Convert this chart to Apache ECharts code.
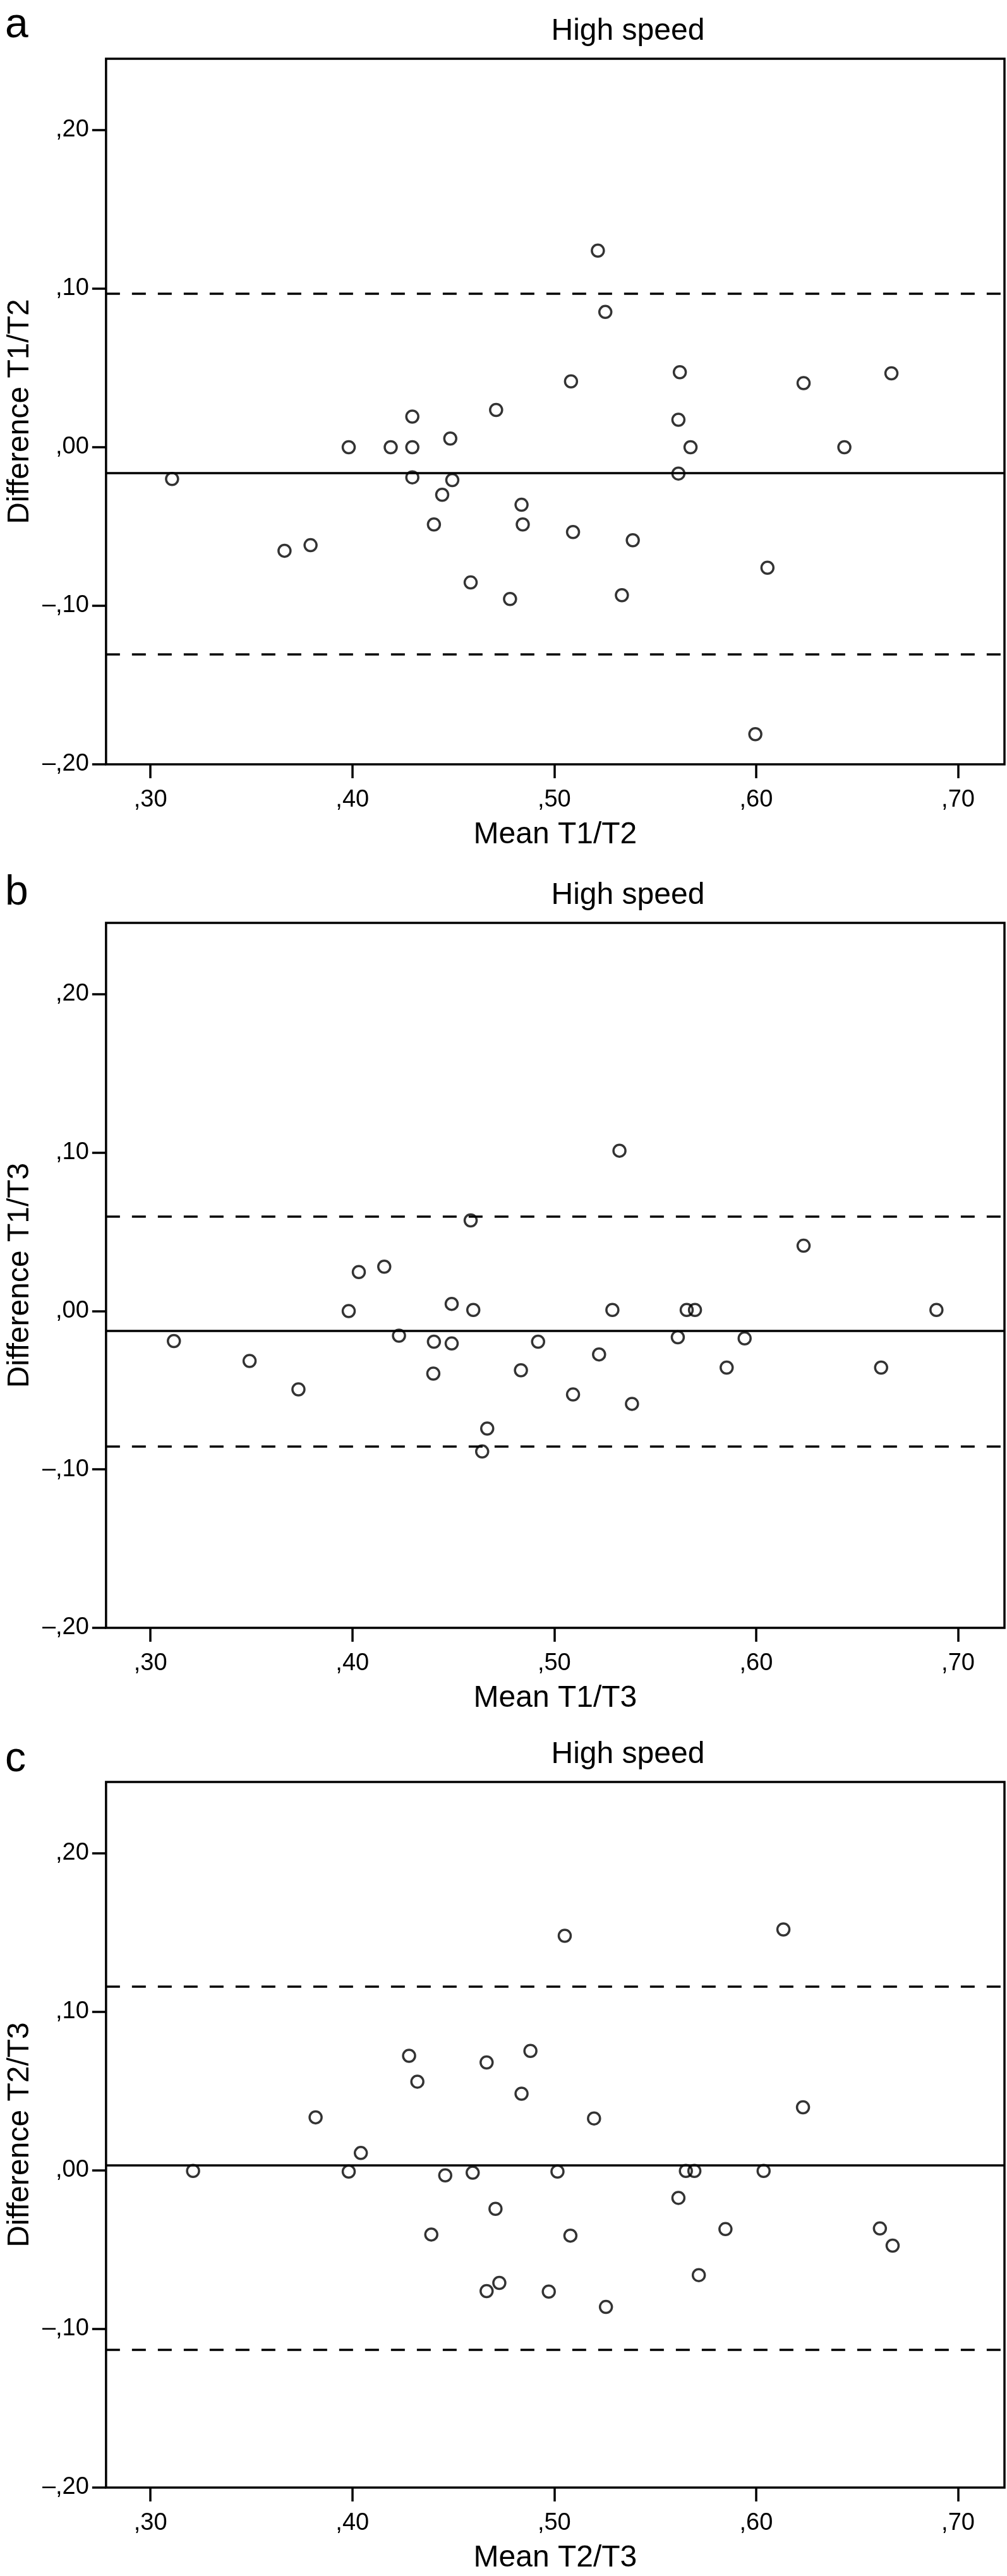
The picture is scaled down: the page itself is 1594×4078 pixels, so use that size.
<!DOCTYPE html>
<html>
<head>
<meta charset="utf-8">
<script src="https://cdn.jsdelivr.net/npm/echarts@6/dist/echarts.min.js"></script>
<style>
html,body{margin:0;padding:0;background:#fff;}
#chart{width:1594px;height:4078px;}
</style>
</head>
<body>
<div id="chart"></div>
<script>
// ---- data ----
const panelLetters = ['a', 'b', 'c'];
const panelTitle = 'High speed';
const xNames = ['Mean T1/T2', 'Mean T1/T3', 'Mean T2/T3'];
const yNames = ['Difference T1/T2', 'Difference T1/T3', 'Difference T2/T3'];

const xTickValues = [0.30, 0.40, 0.50, 0.60, 0.70];
const xTickLabels = [',30', ',40', ',50', ',60', ',70'];
const yTickValues = [-0.20, -0.10, 0.00, 0.10, 0.20];
const yTickLabels = ['\u2013,20', '\u2013,10', ',00', ',10', ',20'];

// panel a : T1/T2
const aMean = [0.3107, 0.3664, 0.3793, 0.3982, 0.4190, 0.4297, 0.4297, 0.4297, 0.4485, 0.4495, 0.4445, 0.4404,
  0.4586, 0.4712, 0.4781, 0.4838, 0.4844, 0.5083, 0.5093, 0.5216, 0.5253, 0.5335, 0.5389, 0.5622, 0.5615,
  0.5615, 0.5675, 0.5996, 0.6056, 0.6235, 0.6437, 0.6670];
const aDiff = [-0.020, -0.0653, -0.0618, 0.000, 0.000, 0.0193, 0.000, -0.019, 0.0055, -0.0207, -0.030, -0.0487,
  -0.0853, 0.0235, -0.0957, -0.0363, -0.0487, 0.0415, -0.0535, 0.124, 0.0853, -0.0933, -0.0587, 0.0473, 0.0173,
  -0.0166, 0.000, -0.181, -0.076, 0.0404, 0.000, 0.0466];
const aLimits = [0.0969, -0.0162, -0.1307]; // upper LoA, mean diff, lower LoA

// panel b : T1/T3
const bMean = [0.3116, 0.3491, 0.3733, 0.3982, 0.4032, 0.4158, 0.4231, 0.4404, 0.4401, 0.4492, 0.4492, 0.4586,
  0.4599, 0.4668, 0.4643, 0.4835, 0.4920, 0.5093, 0.5222, 0.5288, 0.5323, 0.5385, 0.5612, 0.5656, 0.5697,
  0.5854, 0.5943, 0.6235, 0.6619, 0.6893];
const bDiff = [-0.019, -0.0315, -0.0495, 0.000, 0.0246, 0.028, -0.0156, -0.0194, -0.0395, 0.0045, -0.0205, 0.0572,
  0.0007, -0.0742, -0.0887, -0.0374, -0.0194, -0.0527, -0.0274, 0.0007, 0.1012, -0.0586, -0.0166, 0.0007, 0.0007,
  -0.0357, -0.0173, 0.0412, -0.0357, 0.0007];
const bLimits = [0.0596, -0.0125, -0.0853];

// panel c : T2/T3
const cMean = [0.3211, 0.3818, 0.3982, 0.4042, 0.4281, 0.4322, 0.4391, 0.4460, 0.4596, 0.4665, 0.4709, 0.4665,
  0.4728, 0.4838, 0.4882, 0.4973, 0.5016, 0.5052, 0.5080, 0.5197, 0.5256, 0.5615, 0.5652, 0.5694, 0.5716,
  0.5848, 0.6037, 0.6135, 0.6232, 0.6613, 0.6676];
const cDiff = [-0.0003, 0.0335, -0.0007, 0.011, 0.0723, 0.056, -0.0404, -0.0031, -0.0014, 0.0681, -0.0242, -0.0761,
  -0.0709, 0.0484, 0.0754, -0.0764, -0.0007, 0.148, -0.0411, 0.0328, -0.0861, -0.0173, -0.0003, -0.0003, -0.066,
  -0.037, -0.0003, 0.152, 0.0398, -0.0366, -0.0474];
const cLimits = [0.1162, 0.0031, -0.1131];

const xRange = [0.278, 0.723];
const yRange = [-0.20, 0.245];

// ---- layout ----
const FONT = '"Liberation Sans", Arial, Helvetica, sans-serif';
const panels = [
  { mean: aMean, diff: aDiff, lim: aLimits },
  { mean: bMean, diff: bDiff, lim: bLimits },
  { mean: cMean, diff: cDiff, lim: cLimits }
];
const gridTops = [93, 1461, 2821];
const gridHeights = [1117, 1116, 1117];
const panelOffsets = [0, 1368, 2728];
const letterTops = [8, 1381, 2753];
const gridLeft = 155, gridWidth = 1435;

const grids = [], xAxes = [], yAxes = [], series = [], graphics = [];

function labelFor(values, labels) {
  return function (v) {
    for (let i = 0; i < values.length; i++) {
      if (Math.abs(values[i] - v) < 1e-6) return labels[i];
    }
    return '';
  };
}

panels.forEach((p, i) => {
  grids.push({
    left: gridLeft, top: gridTops[i], width: gridWidth, height: gridHeights[i],
    show: true, borderColor: '#000', borderWidth: 3.5, backgroundColor: 'transparent',
    containLabel: false
  });
  xAxes.push({
    type: 'value', gridIndex: i, min: xRange[0], max: xRange[1],
    name: xNames[i], nameLocation: 'middle', nameGap: 88,
    nameTextStyle: { fontFamily: FONT, fontSize: 48, color: '#000' },
    axisLine: { show: false, onZero: false },
    splitLine: { show: false },
    axisTick: { show: true, inside: false, length: 22, customValues: xTickValues,
      lineStyle: { color: '#000', width: 3.5 } },
    axisLabel: { show: true, customValues: xTickValues, margin: 38,
      formatter: labelFor(xTickValues, xTickLabels),
      fontFamily: FONT, fontSize: 38, color: '#000' }
  });
  yAxes.push({
    type: 'value', gridIndex: i, min: yRange[0], max: yRange[1],
    name: yNames[i], nameLocation: 'middle', nameGap: 106, nameRotate: 90,
    nameTextStyle: { fontFamily: FONT, fontSize: 48, color: '#000' },
    axisLine: { show: false, onZero: false },
    splitLine: { show: false },
    axisTick: { show: true, inside: false, length: 22, customValues: yTickValues,
      lineStyle: { color: '#000', width: 3.5 } },
    axisLabel: { show: true, customValues: yTickValues, margin: 27,
      formatter: labelFor(yTickValues, yTickLabels),
      fontFamily: FONT, fontSize: 38, color: '#000' }
  });
  series.push({
    type: 'scatter', xAxisIndex: i, yAxisIndex: i,
    data: p.mean.map((m, k) => [m, p.diff[k]]),
    symbol: 'circle', symbolSize: 19,
    itemStyle: { color: 'rgba(255,255,255,0)', borderColor: '#000', borderWidth: 3.5 },
    silent: true,
    markLine: {
      silent: true, symbol: 'none', label: { show: false }, precision: 6,
      data: [
        { yAxis: p.lim[0], lineStyle: { type: [22, 19], color: '#000', width: 3.5 } },
        { yAxis: p.lim[1], lineStyle: { type: 'solid', color: '#000', width: 3.5 } },
        { yAxis: p.lim[2], lineStyle: { type: [22, 19], color: '#000', width: 3.5 } }
      ]
    }
  });
  graphics.push({
    type: 'text', left: gridLeft + gridWidth / 2, top: 26 + panelOffsets[i],
    style: { text: panelTitle, font: '48px ' + FONT, fill: '#000', textAlign: 'center' }
  });
  graphics.push({
    type: 'text', left: 8, top: letterTops[i],
    style: { text: panelLetters[i], font: '66px ' + FONT, fill: '#000' }
  });
});

const chart = echarts.init(document.getElementById('chart'), null, { renderer: 'canvas' });
chart.setOption({
  animation: false,
  backgroundColor: '#fff',
  grid: grids,
  xAxis: xAxes,
  yAxis: yAxes,
  series: series,
  graphic: graphics
});
</script>
</body>
</html>
